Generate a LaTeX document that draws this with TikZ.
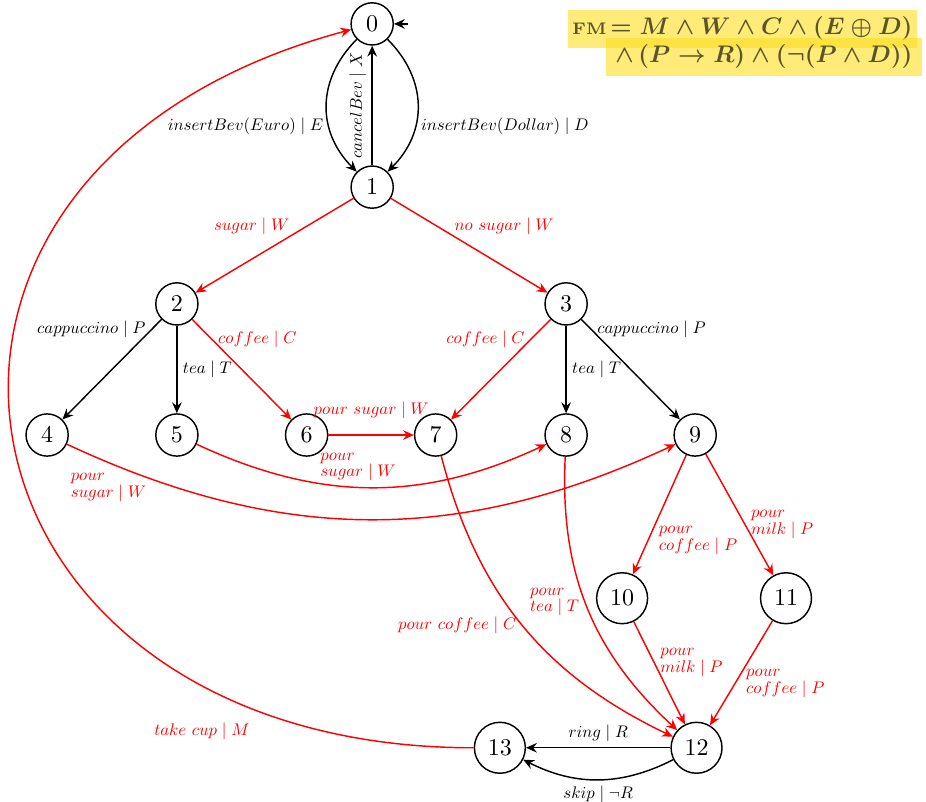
\documentclass[tikz,border=0pt]{standalone}
\usetikzlibrary{arrows.meta}
\definecolor{fmhl}{RGB}{253,222,30}
\definecolor{fmtext}{RGB}{92,84,40}
\begin{document}
\begin{tikzpicture}[>={Stealth[length=4.5pt,width=4pt,inset=1.5pt]},semithick,
    st/.style={circle,draw},
    lbl/.style={font=\fontsize{10}{10}\selectfont,scale=0.7,transform shape},
    lbl2/.style={lbl,align=left},
    fmbox/.style={fill=fmhl,fill opacity=0.6,text opacity=1,text=fmtext,anchor=base east}]
  \useasboundingbox (0,0) rectangle (13.56,-11.74);
  % states
  \foreach \n/\x/\y in {0/5.45/-0.35,1/5.45/-2.74,2/2.59/-4.45,3/8.29/-4.45,
      4/0.69/-6.37,5/2.59/-6.37,6/4.49/-6.37,7/6.38/-6.37,8/8.29/-6.37,9/10.18/-6.37,
      10/9.11/-8.76,11/11.51/-8.76,12/10.2/-10.95,13/7.32/-10.95}
    \node[st] (s\n) at (\x,\y) {$\n$};
  \coordinate (init) at (5.97,-0.35);
  \draw[->] (init) -- (s0);
  % money
  \draw[->] (s0) to[bend right=45,looseness=1.1] node[lbl,left,pos=0.65] {$insertBev(Euro)\mid E$} (s1);
  \draw[->] (s0) to[bend left=45,looseness=1.1] node[lbl,right,pos=0.65] {$insertBev(Dollar)\mid D$} (s1);
  \draw[->] (s1) -- node[lbl,sloped,above] {$cancelBev\mid X$} (s0);
  % sugar
  \draw[->,red] (s1) -- node[lbl,above left=-3pt,pos=0.4] {$sugar\mid W$} (s2);
  \draw[->,red] (s1) -- node[lbl,above right=-3pt,pos=0.4] {$no\ sugar\mid W$} (s3);
  % beverages
  \draw[->] (s2) -- node[lbl,left,pos=0.1] {$cappuccino\mid P$} (s4);
  \draw[->] (s2) -- node[lbl,right] {$tea\mid T$} (s5);
  \draw[->,red] (s2) -- node[lbl,right,pos=0.2] {$coffee\mid C$} (s6);
  \draw[->,red] (s3) -- node[lbl,left,pos=0.2] {$coffee\mid C$} (s7);
  \draw[->] (s3) -- node[lbl,right] {$tea\mid T$} (s8);
  \draw[->] (s3) -- node[lbl,right,pos=0.1] {$cappuccino\mid P$} (s9);
  % pour sugar
  \draw[->,red] (s6) -- node[lbl,above=6pt] {$pour\ sugar\mid W$} (s7);
  \draw[->,red] (s5) to[bend right=25] node[lbl2,above,pos=0.46] {$pour$\\$sugar\mid W$} (s8);
  \draw[->,red] (s4) to[bend right=25] node[lbl2,below=3pt,pos=0.065] {$pour$\\$sugar\mid W$} (s9);
  % pour
  \draw[->,red] (s7) to[bend right=25] node[lbl,left,pos=0.5] {$pour\ coffee\mid C$} (s12);
  \draw[->,red] (s8) to[bend right=25] node[lbl2,left,pos=0.48] {$pour$\\$tea\mid T$} (s12);
  \draw[->,red] (s9) -- node[lbl2,right=3pt,pos=0.72] {$pour$\\$coffee\mid P$} (s10);
  \draw[->,red] (s9) -- node[lbl2,right,pos=0.58] {$pour$\\$milk\mid P$} (s11);
  \draw[->,red] (s10) -- node[lbl2,right,pos=0.4] {$pour$\\$milk\mid P$} (s12);
  \draw[->,red] (s11) -- node[lbl2,right=3pt,pos=0.6] {$pour$\\$coffee\mid P$} (s12);
  % ring
  \draw[->] (s12) -- node[lbl,above] {$ring\mid R$} (s13);
  \draw[->] (s12) to[bend left=27] node[lbl,below] {$skip\mid \neg R$} (s13);
  \draw[->,red] (s13) to[out=180,in=195,looseness=1.9] node[lbl,below left=3pt,pos=0.15] {$take\ cup\mid M$} (s0);
  % feature model
  \node[fmbox,inner xsep=2pt,inner ysep=3pt] (fm1) at (13.44,-0.512)
    {{\bfseries\fontsize{7}{8}\selectfont FM}\,{\boldmath$= M \wedge W \wedge C \wedge (E \oplus D)$}};
  \node[fmbox,inner xsep=4pt,inner ysep=3pt] (fm2) at (13.51,-0.922)
    {{\boldmath$\wedge\, (P \rightarrow R) \wedge (\neg (P \wedge D))$}};
\end{tikzpicture}
\end{document}
